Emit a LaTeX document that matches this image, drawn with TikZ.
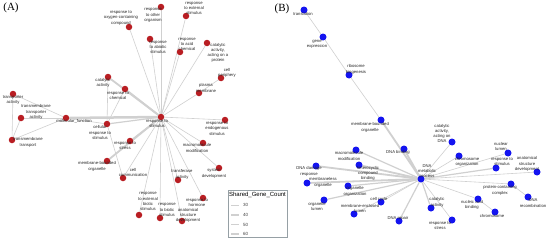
\documentclass[tikz,border=0pt]{standalone}
\usepackage{fontspec}
\setmainfont{Liberation Sans}
\newfontfamily\panelfont{Liberation Serif}
\usetikzlibrary{backgrounds}
\definecolor{dotred}{RGB}{185,30,35}
\definecolor{dotblue}{RGB}{20,20,240}
\definecolor{edgegray}{RGB}{208,208,208}
\definecolor{legframe}{RGB}{150,160,165}
\tikzset{
 rdot/.style={circle,fill=dotred,inner sep=0pt,minimum size=6.5pt},
 bdot/.style={circle,fill=dotblue,inner sep=0pt,minimum size=7pt},
 lab/.style={font=\fontsize{4.2}{5.2}\selectfont,align=center,inner sep=0pt,text=black!85},
 ew1/.style={draw=edgegray,line width=0.6pt},
 ew2/.style={draw=edgegray,line width=1.2pt},
 ew3/.style={draw=edgegray,line width=1.8pt},
 ew4/.style={draw=edgegray,line width=2.5pt},
 panel/.style={font=\panelfont\fontsize{11}{12}\selectfont,inner sep=0pt},
}
\newcommand\mknode[5]{\node[#1] (#2) at (#3) {}; \node[lab] (#2l) at (#4) {#5};}
\begin{document}
\begin{tikzpicture}[x=1pt,y=-1pt]
\useasboundingbox (0,0) rectangle (550,241);
\node[panel] (pA) at (11,8) {(A)};
\node[panel] (pB) at (282,9) {(B)};
% ---------- network A ----------
\mknode{rdot}{hubA}{161,117}{157,124}{response to\\stimulus}
\mknode{rdot}{oxy}{129,27}{121,18}{response to\\oxygen-containing\\compound}
\mknode{rdot}{other}{161,7}{153,15.5}{response\\to other\\organism}
\mknode{rdot}{ext}{186,16}{194,8.5}{response\\to external\\stimulus}
\mknode{rdot}{abio}{150,39}{158,47.5}{response\\to abiotic\\stimulus}
\mknode{rdot}{acid}{180,52}{187,44.5}{response\\to acid\\chemical}
\mknode{rdot}{catprot}{207,43}{218,53}{catalytic\\activity,\\acting on a\\protein}
\mknode{rdot}{periph}{221,78}{227,73}{cell\\periphery}
\mknode{rdot}{plasma}{199,93}{206,88}{plasma\\membrane}
\mknode{rdot}{cat}{108,77}{103,83}{catalytic\\activity}
\mknode{rdot}{chem}{125,89}{118,95.5}{response to\\chemical}
\mknode{rdot}{transp}{13,94}{13,100}{transporter\\activity}
\mknode{rdot}{tmta}{21,118}{36,112}{transmembrane\\transporter\\activity}
\mknode{rdot}{molf}{66,118}{74,121}{molecular\_function}
\mknode{rdot}{tmt}{12,140}{28,142.5}{transmembrane\\transport}
\mknode{rdot}{cellr}{107,124}{100,132.5}{cellular\\response to\\stimulus}
\mknode{rdot}{stress}{130,141}{125,146}{response to\\stress}
\mknode{rdot}{mbo}{107,161}{97,166.5}{membrane-bounded\\organelle}
\mknode{rdot}{comm}{123,178}{133,172.5}{cell\\communication}
\mknode{rdot}{endo}{225,120}{217,128.5}{response to\\endogenous\\stimulus}
\mknode{rdot}{macro}{203,143}{197,148}{macromolecule\\modification}
\mknode{rdot}{sysdev}{219,168}{214,173.5}{system\\development}
\mknode{rdot}{transf}{178,180}{182,174.5}{transferase\\activity}
\mknode{rdot}{extbio}{139,215}{148,201.5}{response\\to external\\biotic\\stimulus}
\mknode{rdot}{bio}{160,218}{167,210}{response\\to biotic\\stimulus}
\mknode{rdot}{anat}{182,221}{188,215.5}{anatomical\\structure\\development}
\mknode{rdot}{horm}{203,198}{197,202.5}{response to\\hormone}
% ---------- network B ----------
\mknode{bdot}{hubB}{421,179}{427,171.5}{DNA\\metabolic\\process}
\mknode{bdot}{transl}{304,10}{303,13.5}{translation}
\mknode{bdot}{gexp}{323,37}{317,44}{gene\\expression}
\mknode{bdot}{ribo}{349,75}{356,69.5}{ribosome\\biogenesis}
\mknode{bdot}{mboB}{381,120}{370,127.5}{membrane-bounded\\organelle}
\mknode{bdot}{dnab}{404,149}{398,152}{DNA binding}
\mknode{bdot}{macroB}{356,150}{349,156}{macromolecule\\modification}
\mknode{bdot}{hetero}{359,165}{368,173.5}{heterocyclic\\compound\\binding}
\mknode{bdot}{dnadam}{316,166}{309,171.5}{DNA damage\\response}
\mknode{bdot}{mless}{307,183}{323,182.5}{membraneless\\organelle}
\mknode{bdot}{orgorg}{348,186}{355,191.5}{organelle\\organization}
\mknode{bdot}{olumen}{324,200}{317,206.5}{organelle\\lumen}
\mknode{bdot}{ccyc}{381,202}{379,199}{cell cycle}
\mknode{bdot}{melumen}{354,214}{360,208.5}{membrane-enclosed\\lumen}
\mknode{bdot}{drep}{399,221}{398,218}{DNA repair}
\mknode{bdot}{catdna}{452,142}{442,133.5}{catalytic\\activity,\\acting on\\DNA}
\mknode{bdot}{chorg}{459,156}{467,162}{chromosome\\organization}
\mknode{bdot}{nlumen}{508,153}{501,146.5}{nuclear\\lumen}
\mknode{bdot}{rstim}{496,168}{502,162}{response to\\stimulus}
\mknode{bdot}{anatB}{537,172}{527,164}{anatomical\\structure\\development}
\mknode{bdot}{pcomp}{511,184}{500,190.5}{protein-containing\\complex}
\mknode{bdot}{dnarec}{528,197}{533,203}{DNA\\recombination}
\mknode{bdot}{nacid}{478,199}{472,205}{nucleic acid\\binding}
\mknode{bdot}{catB}{431,208}{437,202.5}{catalytic\\activity}
\mknode{bdot}{chromo}{495,212}{492,215.5}{chromosome}
\mknode{bdot}{stressB}{452,220}{440,226}{response to\\stress}
% ---------- legend ----------
\node[draw=legframe,line width=0.6pt,minimum width=59pt,minimum height=47pt,inner sep=0pt] (leg) at (257.5,213.5) {};
\node[font=\fontsize{6}{7}\selectfont,inner sep=0pt] (legt) at (257.5,194.5) {Shared\_Gene\_Count};
\foreach \y/\v/\w in {205/30/0.6,215/40/1.2,224.5/50/1.9,234/60/2.6}{
  \coordinate (la\v) at (231,\y); \coordinate (lb\v) at (239,\y);
  \draw[draw=edgegray,line width=\w pt] (la\v) -- (lb\v);
  \node[font=\fontsize{4.5}{5}\selectfont,text=black!75,inner sep=0pt,anchor=west] (ll\v) at (243,\y) {\v};
}
% ---------- edges ----------
\begin{pgfonlayer}{background}
\fill[white] (0,0) rectangle (550,241);
\foreach \t in {oxy,other,ext,abio,acid,catprot,plasma,comm,endo,macro,sysdev,transf,extbio,bio,anat,horm}
  \draw[ew1] (hubA) -- (\t);
\draw[ew4] (hubA) -- (molf);
\draw[ew3] (hubA) -- (cat);
\draw[ew3] (hubA) -- (chem);
\draw[ew2] (hubA) -- (cellr);
\draw[ew3] (hubA) -- (mbo);
\draw[ew2] (hubA) -- (stress);
\draw[ew1] (plasma) -- (periph);
\draw[ew1] (cat) -- (cellr);
\draw[ew1] (chem) -- (cellr);
\draw[ew1] (cellr) -- (comm);
\draw[ew1] (molf) -- (cellr);
\draw[ew1] (molf) -- (transp);
\draw[ew1] (molf) -- (tmta);
\draw[ew1] (molf) -- (tmt);
\draw[ew1] (transp) -- (tmt);
\draw[ew1] (tmta) -- (tmt);
\draw[ew1] (transl) -- (gexp);
\draw[ew1] (gexp) -- (ribo);
\draw[ew1] (ribo) -- (mboB);
\draw[ew3] (hubB) -- (mboB);
\draw[ew3] (hubB) -- (dnab);
\draw[ew2] (hubB) -- (macroB);
\draw[ew3] (hubB) -- (hetero);
\draw[ew3] (hubB) -- (dnadam);
\draw[ew3] (hubB) -- (mless);
\draw[ew2] (hubB) -- (orgorg);
\draw[ew2] (hubB) -- (olumen);
\draw[ew1] (hubB) -- (ccyc);
\draw[ew1] (hubB) -- (melumen);
\draw[ew2] (hubB) -- (drep);
\draw[ew1] (hubB) -- (catdna);
\draw[ew1] (hubB) -- (chorg);
\draw[ew1] (hubB) -- (nlumen);
\draw[ew2] (hubB) -- (rstim);
\draw[ew1] (hubB) -- (anatB);
\draw[ew1] (hubB) -- (pcomp);
\draw[ew1] (pcomp) -- (dnarec);
\draw[ew1] (hubB) -- (nacid);
\draw[ew1] (nacid) -- (chromo);
\draw[ew2] (hubB) -- (catB);
\draw[ew1] (hubB) -- (stressB);
\end{pgfonlayer}
\end{tikzpicture}
\end{document}
